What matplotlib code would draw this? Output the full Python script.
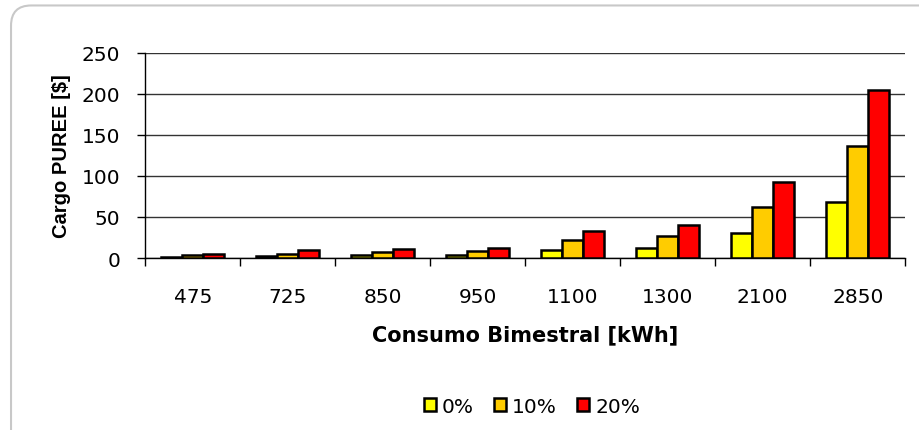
import matplotlib
matplotlib.use("Agg")
import matplotlib.pyplot as plt
import numpy as np
from matplotlib.patches import FancyBboxPatch

categories = ["475", "725", "850", "950", "1100", "1300", "2100", "2850"]
series_names = ["0%", "10%", "20%"]
vals_0 = [1.5, 2.5, 4.0, 4.0, 10.0, 12.5, 31.0, 68.0]
vals_10 = [3.5, 5.5, 7.3, 8.8, 21.5, 26.5, 62.0, 136.0]
vals_20 = [5.5, 9.3, 10.6, 12.3, 32.5, 40.0, 93.0, 205.0]
colors = ["#FFFF00", "#FFCC00", "#FF0000"]

plt.rcParams['font.family'] = ['DejaVu Sans']

fig = plt.figure(figsize=(9.19, 4.31), dpi=100)
frame = FancyBboxPatch((0.012, -0.05), 1.05, 1.035, boxstyle="round,pad=0,rounding_size=0.022",
                       transform=fig.transFigure, facecolor="white", edgecolor="#C8C8C8",
                       linewidth=1.5, mutation_aspect=919/431, zorder=-10)
fig.patches.append(frame)

ax = fig.add_axes([0.158, 0.399, 0.827, 0.476])
ax.set_zorder(5)
ax.patch.set_alpha(0)
x = np.arange(len(categories))
w = 0.222
for i, (vals, c, name) in enumerate(zip([vals_0, vals_10, vals_20], colors, series_names)):
    ax.bar(x + (i - 1) * w, vals, width=w, color=c, edgecolor="black", linewidth=1.8,
           label=name, zorder=3)

ax.set_xlim(-0.5, len(categories) - 0.5)
ax.set_ylim(0, 250)
ax.set_yticks([0, 50, 100, 150, 200, 250])
ax.yaxis.grid(True, color="#333333", linewidth=1.0, zorder=0)
ax.set_axisbelow(True)
ax.set_xticks(x)
ax.set_xticklabels(categories, fontsize=14.5)
ax.set_xticks(np.arange(-0.5, len(categories)), minor=True)
ax.tick_params(axis='x', which='major', length=0, pad=21)
ax.tick_params(axis='x', which='minor', length=5.8, width=1, color="black")
ax.tick_params(axis='y', length=5.8, width=1, labelsize=14.5, pad=12)
for s in ["top", "right"]:
    ax.spines[s].set_visible(False)
ax.spines["left"].set_linewidth(1)
ax.spines["bottom"].set_linewidth(1)
ax.set_xlabel("Consumo Bimestral [kWh]", fontsize=15, fontweight="bold", labelpad=13)
ax.set_ylabel("Cargo PUREE [$]", fontsize=14.5, fontweight="bold", labelpad=8,
              family=['Liberation Sans', 'DejaVu Sans'])

leg = fig.legend(loc="center", bbox_to_anchor=(0.579, 0.055), ncol=3, frameon=False,
                 fontsize=14.5, handlelength=0.6, handleheight=0.6, handletextpad=0.3,
                 columnspacing=1.0)
leg.set_zorder(6)

fig.savefig("out.png", dpi=100)
